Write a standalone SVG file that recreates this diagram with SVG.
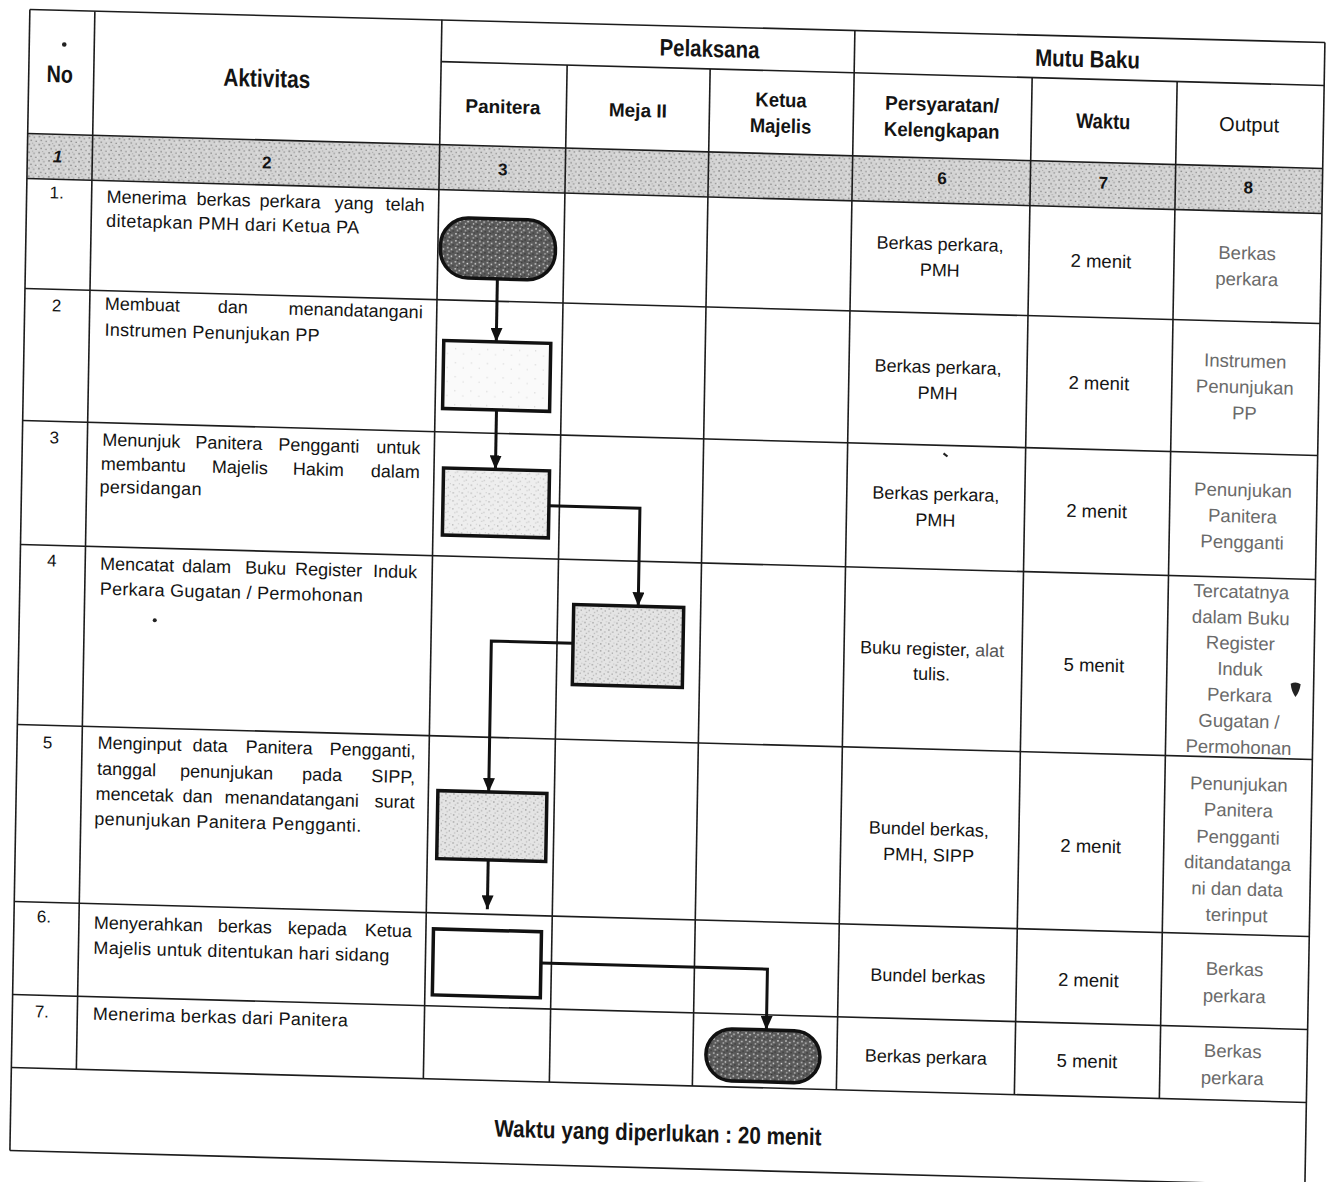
<svg xmlns="http://www.w3.org/2000/svg" width="1334" height="1182" viewBox="0 0 1334 1182">
<defs>
<style>
text{font-family:"Liberation Sans",Arial,sans-serif;fill:#141414}
.h{font-weight:bold;font-size:19px;text-anchor:middle}
.a{font-size:18px}
.ae{font-size:18px;text-anchor:end}
.n{font-size:17px;text-anchor:middle}
.c{font-size:18px;text-anchor:middle}
.w{font-size:18.5px;text-anchor:middle}
.o{font-size:18.5px;text-anchor:middle;fill:#6a6a6a}
.g{font-size:17px;font-weight:bold;text-anchor:middle}
.grid line{stroke:#1c1c1c;stroke-width:1.6}
.shape{stroke:#111;stroke-width:3.5}
.conn{fill:none;stroke:#111;stroke-width:3;marker-end:url(#arr)}
</style>
<marker id="arr" viewBox="0 0 14 12" refX="14" refY="6" markerWidth="14" markerHeight="12" markerUnits="userSpaceOnUse" orient="auto">
<path d="M0,0 L14,6 L0,12 z" fill="#111"/>
</marker>
<pattern id="pGray" width="10" height="8" patternUnits="userSpaceOnUse">
<rect width="10" height="8" fill="#d4d4d4"/>
<rect x="1" y="1" width="1.6" height="1.4" fill="#808080"/>
<rect x="6" y="2" width="1.4" height="1.3" fill="#959595"/>
<rect x="3" y="5" width="1.5" height="1.3" fill="#8a8a8a"/>
<rect x="8" y="6" width="1.2" height="1" fill="#6a6a6a"/>
<rect x="4.5" y="0" width="1.2" height="1" fill="#a8a8a8"/>
<rect x="8.5" y="3" width="1" height="1" fill="#f0f0f0"/>
<rect x="0" y="6" width="1" height="1" fill="#efefef"/>
</pattern>
<pattern id="pDark" width="8" height="7" patternUnits="userSpaceOnUse">
<rect width="8" height="7" fill="#5a5a5a"/>
<rect x="1" y="1" width="1.6" height="1.3" fill="#d0d0d0"/>
<rect x="5" y="2.5" width="1.4" height="1.4" fill="#e6e6e6"/>
<rect x="2.5" y="4.5" width="1.3" height="1.5" fill="#bdbdbd"/>
<rect x="6.5" y="5.5" width="1.2" height="1" fill="#2a2a2a"/>
<rect x="3.5" y="0" width="1.2" height="1" fill="#333"/>
</pattern>
<pattern id="pLight" width="9" height="8" patternUnits="userSpaceOnUse">
<rect width="9" height="8" fill="#eeeeee"/>
<rect x="1" y="2" width="1.2" height="1.2" fill="#a8a8a8"/>
<rect x="5" y="5" width="1.2" height="1" fill="#b5b5b5"/>
<rect x="7" y="1" width="1" height="1" fill="#c4c4c4"/>
<rect x="3" y="6" width="1" height="1" fill="#bcbcbc"/>
</pattern>
<pattern id="pMid" width="8" height="7" patternUnits="userSpaceOnUse">
<rect width="8" height="7" fill="#e4e4e4"/>
<rect x="1" y="1" width="1.3" height="1.3" fill="#959595"/>
<rect x="5" y="3" width="1.2" height="1.2" fill="#a0a0a0"/>
<rect x="2.5" y="5" width="1.2" height="1" fill="#aaaaaa"/>
<rect x="6.5" y="0" width="1" height="1" fill="#bbb"/>
</pattern>
<pattern id="pFaint" width="16" height="14" patternUnits="userSpaceOnUse">
<rect width="16" height="14" fill="#fafafa"/>
<rect x="3" y="4" width="1" height="1" fill="#c8c8c8"/>
<rect x="11" y="9" width="1" height="1" fill="#d0d0d0"/>
</pattern>
</defs>
<rect width="1334" height="1182" fill="#ffffff"/>
<g transform="matrix(1 0.027 -0.0175 1 10.34 -18.01)">

<g id="table">
<rect x="20" y="151" width="1295" height="45" fill="url(#pGray)"/>
<g class="grid">
<line x1="20" y1="27" x2="1315" y2="25"/>
<line x1="432" y1="68" x2="1315" y2="68"/>
<line x1="20" y1="151" x2="1315" y2="151"/>
<line x1="20" y1="196" x2="1315" y2="196"/>
<line x1="20" y1="306" x2="1315" y2="306"/>
<line x1="20" y1="438" x2="1315" y2="438"/>
<line x1="20" y1="562" x2="1315" y2="562"/>
<line x1="20" y1="742" x2="1315" y2="742"/>
<line x1="20" y1="919" x2="1315" y2="919"/>
<line x1="20" y1="1012" x2="1315" y2="1012"/>
<line x1="20" y1="1085" x2="1315" y2="1085"/>
<line x1="20" y1="1168" x2="1315" y2="1168"/>
<line x1="20" y1="27" x2="20" y2="1168"/>
<line x1="85" y1="27" x2="85" y2="1085"/>
<line x1="432" y1="26" x2="432" y2="1085"/>
<line x1="558" y1="68" x2="558" y2="1085"/>
<line x1="701" y1="68" x2="701" y2="1085"/>
<line x1="845" y1="26" x2="845" y2="1085"/>
<line x1="1023" y1="68" x2="1023" y2="1085"/>
<line x1="1168" y1="68" x2="1168" y2="1085"/>
<line x1="1315" y1="25" x2="1315" y2="1168"/>
</g>
</g>

<g id="header">
<text class="h" transform="translate(51,99) scale(0.82,1)" style="font-size:24px">No</text>
<text class="h" transform="translate(258,98) scale(0.835,1)" style="font-size:25px">Aktivitas</text>
<text class="h" transform="translate(700,56) scale(0.85,1)" style="font-size:24px">Pelaksana</text>
<text class="h" transform="translate(1078,56) scale(0.855,1)" style="font-size:24px">Mutu Baku</text>
<text class="h" x="494.5" y="118">Panitera</text>
<text class="h" x="629.5" y="118">Meja II</text>
<text class="h" transform="translate(772.4,104) scale(0.92,1)" style="font-size:20px">Ketua</text>
<text class="h" transform="translate(772.4,130) scale(0.92,1)" style="font-size:20px">Majelis</text>
<text class="h" transform="translate(933.5,104) scale(0.95,1)" style="font-size:20px">Persyaratan/</text>
<text class="h" transform="translate(933.5,130) scale(0.93,1)" style="font-size:20px">Kelengkapan</text>
<text class="h" transform="translate(1094.8,117) scale(0.87,1)" style="font-size:21px">Waktu</text>
<text x="1240.8" y="116" style="font-size:20px;text-anchor:middle">Output</text>
<text class="g" x="50.4" y="179" style="font-style:italic">1</text>
<text class="g" x="259.5" y="179.5">2</text>
<text class="g" x="495.6" y="180">3</text>
<text class="g" x="934.8" y="177">6</text>
<text class="g" x="1095.9" y="177">7</text>
<text class="g" x="1241" y="178">8</text>
<circle cx="55" cy="61" r="2.3" fill="#222"/>
</g>

<g id="row1">
<text class="n" x="50" y="215">1.</text>
<text class="a" y="218"><tspan x="100">Menerima</tspan><tspan x="190">berkas</tspan><tspan x="253">perkara</tspan><tspan x="328">yang</tspan></text>
<text class="ae" x="418" y="218">telah</text>
<text class="a" x="100" y="242" textLength="253" lengthAdjust="spacing">ditetapkan PMH dari Ketua PA</text>
<text class="c" x="934" y="243">Berkas perkara,</text>
<text class="c" x="934" y="269">PMH</text>
<text class="w" x="1095" y="256">2 menit</text>
<text class="o" x="1241" y="244">Berkas</text>
<text class="o" x="1241" y="270">perkara</text>
</g>

<g id="row2">
<text class="n" x="52" y="328">2</text>
<text class="a" y="325"><tspan x="100">Membuat</tspan><tspan x="213">dan</tspan></text>
<text class="ae" x="418" y="325">menandatangani</text>
<text class="a" x="100.3" y="351" textLength="215" lengthAdjust="spacing">Instrumen Penunjukan PP</text>
<text class="c" x="934" y="366">Berkas perkara,</text>
<text class="c" x="934" y="392">PMH</text>
<text class="w" x="1095" y="378">2 menit</text>
<text class="o" x="1241" y="352">Instrumen</text>
<text class="o" x="1241" y="378">Penunjukan</text>
<text class="o" x="1241" y="404">PP</text>
</g>

<g id="row3">
<text class="n" x="52" y="460">3</text>
<text class="a" y="461"><tspan x="100">Menunjuk</tspan><tspan x="193">Panitera</tspan><tspan x="276">Pengganti</tspan></text>
<text class="ae" x="418" y="461">untuk</text>
<text class="a" y="485"><tspan x="99">membantu</tspan><tspan x="210">Majelis</tspan><tspan x="291">Hakim</tspan></text>
<text class="ae" x="418" y="485">dalam</text>
<text class="a" x="98" y="508" textLength="102" lengthAdjust="spacing">persidangan</text>
<text class="c" x="934" y="493">Berkas perkara,</text>
<text class="c" x="934" y="519">PMH</text>
<text class="w" x="1095" y="506">2 menit</text>
<text class="o" x="1241" y="481">Penunjukan</text>
<text class="o" x="1241" y="507">Panitera</text>
<text class="o" x="1241" y="533">Pengganti</text>
<path d="M941,446 L945,449" stroke="#222" stroke-width="2.2"/>
</g>

<g id="row4">
<text class="n" x="51.5" y="583">4</text>
<text class="a" y="585"><tspan x="100">Mencatat</tspan><tspan x="182">dalam</tspan><tspan x="245">Buku</tspan><tspan x="295">Register</tspan></text>
<text class="ae" x="417" y="585">Induk</text>
<text class="a" x="100" y="610" textLength="263" lengthAdjust="spacing">Perkara Gugatan / Permohonan</text>
<circle cx="155.5" cy="634" r="2" fill="#222"/>
<text class="c" x="933" y="648">Buku register, <tspan fill="#555">alat</tspan></text>
<text class="c" x="933" y="673" fill="#444">tulis.</text>
<text class="w" x="1095" y="660">5 menit</text>
<text class="o" x="1241" y="582.5">Tercatatnya</text>
<text class="o" x="1241" y="608.5">dalam Buku</text>
<text class="o" x="1241" y="634">Register</text>
<text class="o" x="1241" y="660">Induk</text>
<text class="o" x="1241" y="686">Perkara</text>
<text class="o" x="1241" y="712">Gugatan /</text>
<text class="o" x="1241" y="738">Permohonan</text>
<path d="M1292,667 Q1297,664 1302,667 Q1301,675 1297,680 Q1293,675 1292,667 z" fill="#222"/>
</g>

<g id="row5">
<text class="n" x="50.6" y="765">5</text>
<text class="a" y="764"><tspan x="100.5">Menginput</tspan><tspan x="195.5">data</tspan><tspan x="248.5">Panitera</tspan></text>
<text class="ae" x="418.5" y="764">Pengganti,</text>
<text class="a" y="790"><tspan x="100.5">tanggal</tspan><tspan x="183.5">penunjukan</tspan><tspan x="305.5">pada</tspan></text>
<text class="ae" x="418.5" y="790">SIPP,</text>
<text class="a" y="815"><tspan x="99.5">mencetak</tspan><tspan x="186.5">dan</tspan><tspan x="228.5">menandatangani</tspan></text>
<text class="ae" x="418.5" y="815">surat</text>
<text class="a" x="98.5" y="840" textLength="267" lengthAdjust="spacing">penunjukan Panitera Pengganti.</text>
<text class="c" x="933" y="828">Bundel berkas,</text>
<text class="c" x="933" y="854">PMH, SIPP</text>
<text class="w" x="1095" y="841">2 menit</text>
<text class="o" x="1242" y="775">Penunjukan</text>
<text class="o" x="1242" y="801">Panitera</text>
<text class="o" x="1242" y="828">Pengganti</text>
<text class="o" x="1242" y="854">ditandatanga</text>
<text class="o" x="1242" y="880">ni dan data</text>
<text class="o" x="1242" y="906">terinput</text>
</g>

<g id="row6">
<text class="n" x="50" y="939">6.</text>
<text class="a" y="944"><tspan x="100">Menyerahkan</tspan><tspan x="224">berkas</tspan><tspan x="294">kepada</tspan></text>
<text class="ae" x="418" y="944">Ketua</text>
<text class="a" x="100" y="969" textLength="296" lengthAdjust="spacing">Majelis untuk ditentukan hari sidang</text>
<text class="c" x="934.5" y="975">Bundel berkas</text>
<text class="w" x="1095" y="975">2 menit</text>
<text class="o" x="1241" y="960">Berkas</text>
<text class="o" x="1241" y="987">perkara</text>
</g>

<g id="row7">
<text class="n" x="49.5" y="1034">7.</text>
<text class="a" x="100.5" y="1035" textLength="255" lengthAdjust="spacing">Menerima berkas dari Panitera</text>
<text class="c" x="934" y="1056">Berkas perkara</text>
<text class="w" x="1095" y="1056">5 menit</text>
<text class="o" x="1240.5" y="1042">Berkas</text>
<text class="o" x="1240.5" y="1069">perkara</text>
</g>

<g id="footer">
<text class="h" transform="translate(667.5,1141) scale(0.86,1)" style="font-size:24px">Waktu yang diperlukan : 20 menit</text>
</g>

<g id="node-1"><rect class="shape" x="434.5" y="223.6" width="115" height="60" rx="28" fill="url(#pDark)"/></g>
<g id="node-2"><rect class="shape" x="439.5" y="346.6" width="107" height="68" fill="url(#pFaint)"/></g>
<g id="node-3"><rect class="shape" x="441.5" y="474.1" width="106" height="67" fill="url(#pLight)"/></g>
<g id="node-4"><rect class="shape" x="574" y="607" width="110" height="80" fill="url(#pMid)"/></g>
<g id="node-5"><rect class="shape" x="441.5" y="796.7" width="109" height="68" fill="url(#pMid)"/></g>
<g id="node-6"><rect class="shape" x="439.5" y="935" width="108" height="66" fill="#ffffff"/></g>
<g id="node-7"><rect class="shape" x="714" y="1027" width="114" height="52" rx="26" fill="url(#pDark)"/></g>

<g id="connectors">
<path class="conn" d="M492,283.6 V346.6"/>
<path class="conn" d="M493.4,414.6 V474.1"/>
<path class="conn" d="M547.5,509 H638.5 V607"/>
<path class="conn" d="M574,645.7 H492.3 V796.7"/>
<path class="conn" d="M493,864.7 V914"/>
<path class="conn" d="M547.5,966.3 H774 V1027"/>
</g>

</g>
</svg>
